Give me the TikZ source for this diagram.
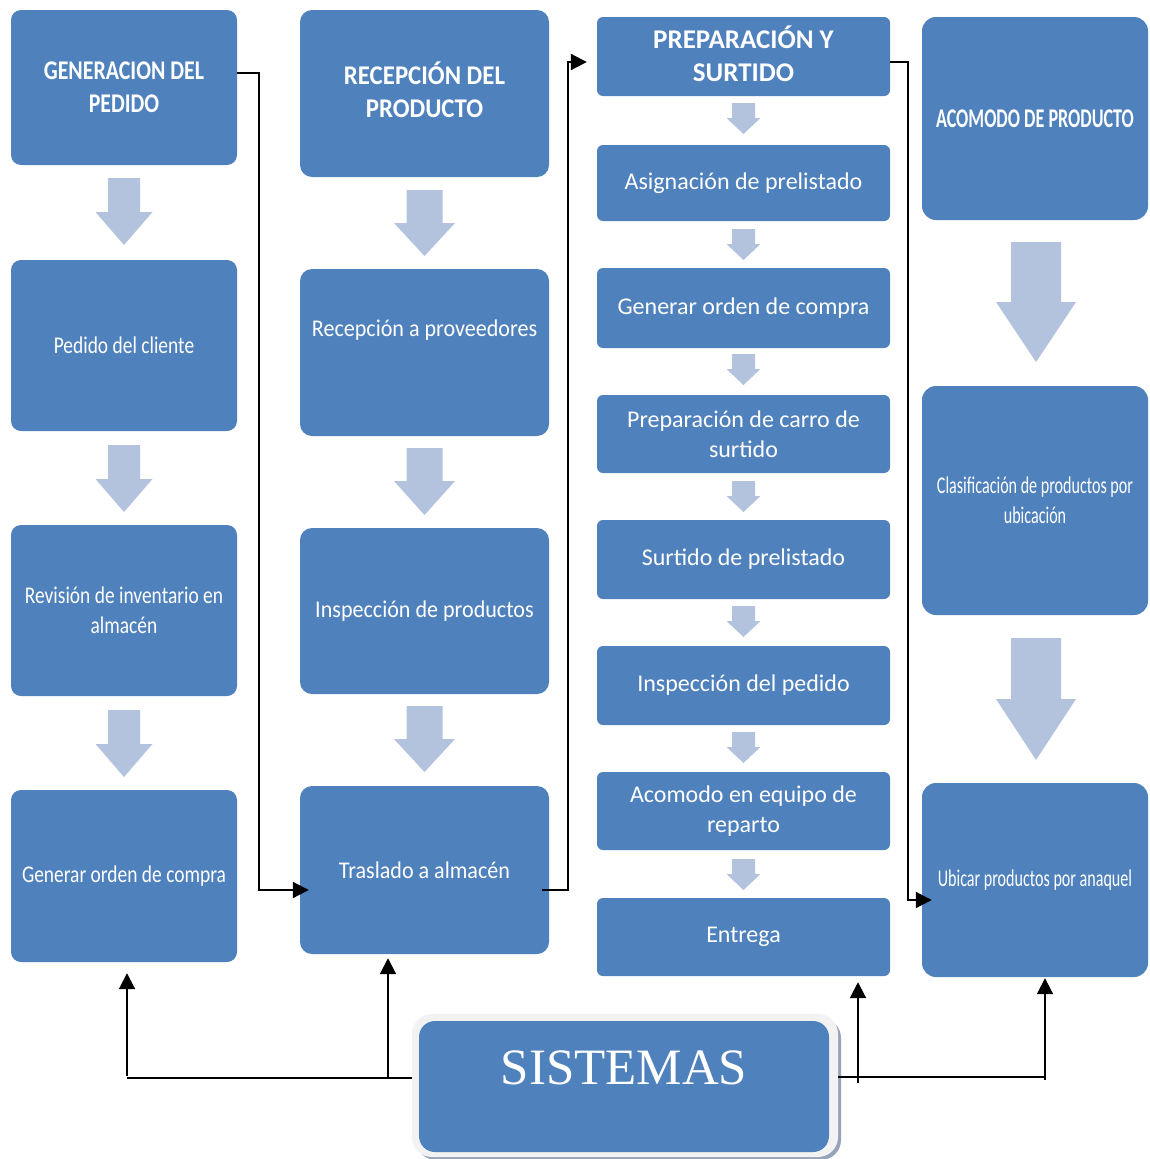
\documentclass[tikz,border=0pt]{standalone}
\usepackage{fontspec}
\setmainfont{Carlito}
\newfontfamily\colA[FakeStretch=0.81]{Carlito}
\newfontfamily\colB[FakeStretch=0.92]{Carlito}
\newfontfamily\colC{Carlito}
\newfontfamily\colD[FakeStretch=0.67]{Carlito}
\newfontfamily\serifbig{Liberation Serif}
\usetikzlibrary{arrows.meta}

\definecolor{boxblue}{RGB}{79,129,189}
\definecolor{arrowblue}{RGB}{179,194,221}
\definecolor{framegray}{RGB}{242,242,242}
\definecolor{shadowgray}{RGB}{150,163,186}

% filled down-pointing block arrow: centre x, top, head start, tip, shaft width, head width
\newcommand{\blockdown}[6]{%
  \fill[arrowblue] ({#1-#5/2},#2) -- ({#1+#5/2},#2) -- ({#1+#5/2},#3) -- ({#1+#6/2},#3)
    -- (#1,#4) -- ({#1-#6/2},#3) -- ({#1-#5/2},#3) -- cycle;}

\tikzset{
  blk/.style={fill=boxblue, draw=none, rounded corners=#1, text=white,
    align=center, inner sep=0pt},
  blk/.default=10pt,
  cA/.style={blk=10pt, minimum width=226pt, font=\colA\fontsize{24}{30}\selectfont},
  cB/.style={blk=12pt, minimum width=249pt, font=\colB\fontsize{24}{30}\selectfont},
  cC/.style={blk=6pt, minimum width=293pt, font=\colC\fontsize{24}{30}\selectfont},
  cD/.style={blk=14pt, minimum width=226pt, font=\colD\fontsize{24}{30}\selectfont},
  headA/.style={font=\colA\bfseries\fontsize{27}{33}\selectfont},
  headB/.style={font=\colB\bfseries\fontsize{27}{33}\selectfont},
  headC/.style={font=\colC\bfseries\fontsize{27}{33}\selectfont},
  headD/.style={font=\colD\bfseries\fontsize{27}{33}\selectfont},
  txt/.style={text=white, align=center, inner sep=0pt},
  link/.style={draw=black, line width=2pt},
  conn/.style={link, -{Triangle[length=16pt,width=16pt]}},
}

\begin{document}
\begin{tikzpicture}[x=1pt,y=-1pt]
\useasboundingbox (0,0) rectangle (1149,1159);
\fill[white] (0,0) rectangle (1149,1159);

% ---- column 1: generacion del pedido
\node[cA, headA, minimum height=155pt] (g1) at (124,87.5) {GENERACION DEL\\PEDIDO};
\node[cA, minimum height=171pt] (g2) at (124,345.5) {Pedido del cliente};
\node[cA, minimum height=171pt] (g3) at (124,610.5) {Revisión de inventario en\\almacén};
\node[cA, minimum height=172pt] (g4) at (124,876) {Generar orden de compra};
\blockdown{124}{178}{212}{245}{32}{57}
\blockdown{124}{445}{479}{512}{32}{57}
\blockdown{124}{710}{744}{777}{32}{57}

% ---- column 2: recepcion del producto
\node[cB, headB, text depth=8pt, minimum height=167pt] (r1) at (424.5,93.5) {RECEPCIÓN DEL\\PRODUCTO};
\node[cB, minimum height=167pt] (r2) at (424.5,352.5) {};
\node[txt, font=\colB\fontsize{24}{30}\selectfont] (r2t) at (424.5,330) {Recepción a proveedores};
\node[cB, minimum height=166pt] (r3) at (424.5,611) {Inspección de productos};
\node[cB, minimum height=168pt] (r4) at (424.5,870) {Traslado a almacén};
\blockdown{424.5}{190}{223}{256}{36}{61}
\blockdown{424.5}{448}{481}{515}{36}{61}
\blockdown{424.5}{706}{739}{772}{36}{61}

% ---- column 3: preparacion y surtido
\node[cC, headC, text depth=6pt, minimum height=79pt] (p1) at (743.5,56.5) {PREPARACIÓN Y\\SURTIDO};
\node[cC, minimum height=76pt] (p2) at (743.5,183) {Asignación de prelistado};
\node[cC, minimum height=80pt] (p3) at (743.5,308) {Generar orden de compra};
\node[cC, minimum height=78pt] (p4) at (743.5,434) {Preparación de carro de\\surtido};
\node[cC, minimum height=79pt] (p5) at (743.5,559.5) {Surtido de prelistado};
\node[cC, minimum height=79pt] (p6) at (743.5,685.5) {Inspección del pedido};
\node[cC, minimum height=78pt] (p7) at (743.5,811) {Acomodo en equipo de\\reparto};
\node[cC, minimum height=78pt] (p8) at (743.5,937) {Entrega};
\foreach \t in {103,229,354,481,606,732,859}{
  \blockdown{743.5}{\t}{\t+15}{\t+31}{23}{34}
}

% ---- column 4: acomodo de producto
\node[cD, headD, minimum height=203pt] (a1) at (1035,118.5) {ACOMODO DE PRODUCTO};
\node[cD, minimum height=229pt] (a2) at (1035,500.5) {Clasificación de productos por\\ubicación};
\node[cD, minimum height=194pt] (a3) at (1035,880) {Ubicar productos por anaquel};
\blockdown{1036}{242}{302}{362}{50}{80}
\blockdown{1036}{638}{699}{760}{50}{80}

% ---- sistemas
\fill[shadowgray, rounded corners=20pt] (416,1018) rectangle (841,1160);
\node[fill=framegray, rounded corners=20pt, minimum width=426pt, minimum height=143pt,
  inner sep=0pt] (sis) at (625,1085.5) {};
\node[blk=16pt, minimum width=410pt, minimum height=131pt] (sisin) at (624,1086.5) {};
\node[txt, font=\serifbig\fontsize{51}{55}\selectfont] (sist) at (624,1068) {SISTEMAS};

% ---- connectors between columns
\draw[conn] ([yshift=14.5pt]g1.east) -- ++(22,0) |- ([xshift=9pt,yshift=-20pt]r4.west);
\draw[conn] ([xshift=-7pt,yshift=-20pt]r4.east) -- ++(26,0) |- ([xshift=-10pt,yshift=-5.5pt]p1.west);
\draw[conn] ([yshift=-5.5pt]p1.east) -- ++(18,0) |- ([xshift=10pt,yshift=-20pt]a3.west);

% ---- connectors from sistemas
\coordinate (sl) at (127,1078);
\coordinate (sm) at (388,1077);
\coordinate (se) at (858,1083);
\coordinate (sr) at (1045,1077);
\draw[link] ([yshift=7.5pt]sis.west) -- (sl);
\draw[conn, shorten >=11pt] ([yshift=2pt]sl) -- (sl |- g4.south);
\draw[conn, shorten >=4pt] (sm) -- (sm |- r4.south);
\draw[link] ([yshift=8.5pt]sis.east) -- (sr);
\draw[conn, shorten >=6pt] (se) -- (se |- p8.south);
\draw[conn, shorten >=1pt] ([yshift=-3pt]sr) -- (sr |- a3.south);
\end{tikzpicture}
\end{document}
